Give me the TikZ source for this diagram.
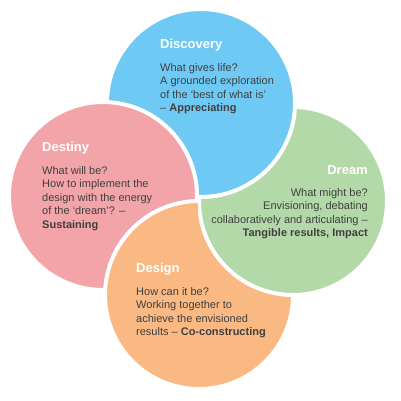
\documentclass[tikz,border=0pt]{standalone}
\usepackage{fontspec}
\setmainfont{Liberation Sans}
\definecolor{discblue}{RGB}{110,202,245}
\definecolor{dreamgreen}{RGB}{179,217,168}
\definecolor{designorange}{RGB}{250,185,131}
\definecolor{destinypink}{RGB}{243,164,168}
\definecolor{bodygray}{RGB}{64,64,64}
\tikzset{
  petal/.style={circle, minimum size=188pt, inner sep=0pt, draw=white, line width=4pt},
  heading/.style={font=\fontsize{13}{15}\selectfont\bfseries, text=white, inner sep=0pt},
  body/.style={font=\fontsize{11}{13.5}\selectfont, text=bodygray, inner sep=0pt},
}
\begin{document}
\begin{tikzpicture}[x=1pt, y=-1pt]
  \useasboundingbox (0,0) rectangle (401,400);
  % the four phases; design is laid again over destiny
  \node[petal, fill=designorange] (design) at (199,295) {};
  \node[petal, fill=dreamgreen] (dream) at (293,201) {};
  \node[petal, fill=discblue] (discovery) at (201,103) {};
  \node[petal, fill=destinypink] (destiny) at (103,196) {};
  \begin{scope}
    \clip (0,199) rectangle (198,400);
    \draw[white, line width=4pt, fill=designorange] (design.center) circle[radius=94pt];
  \end{scope}
  % texts (base of a body is its last line)
  \node[heading, anchor=base west] (disctitle) at (160,48) {Discovery};
  \node[body, anchor=base west, align=left] (disctext) at (160,111.5)
    {What gives life?\\A grounded exploration\\of the ‘best of what is’\\– \textbf{Appreciating}};
  \node[heading, anchor=base west] (destitle) at (42,151) {Destiny};
  \node[body, anchor=base west, align=left] (destext) at (42,228)
    {What will be?\\How to implement the\\design with the energy\\of the ‘dream’? –\\\textbf{Sustaining}};
  \node[heading, anchor=base east] (dreamtitle) at (368,174) {Dream};
  \node[body, anchor=base east, align=right] (dreamtext) at (368,236.5)
    {What might be?\\Envisioning, debating\\collaboratively and articulating –\\\textbf{Tangible results, Impact}};
  \node[heading, anchor=base west] (designtitle) at (136,272) {Design};
  \node[body, anchor=base west, align=left] (designtext) at (136,335.5)
    {How can it be?\\Working together to\\achieve the envisioned\\results – \textbf{Co-constructing}};
\end{tikzpicture}
\end{document}
